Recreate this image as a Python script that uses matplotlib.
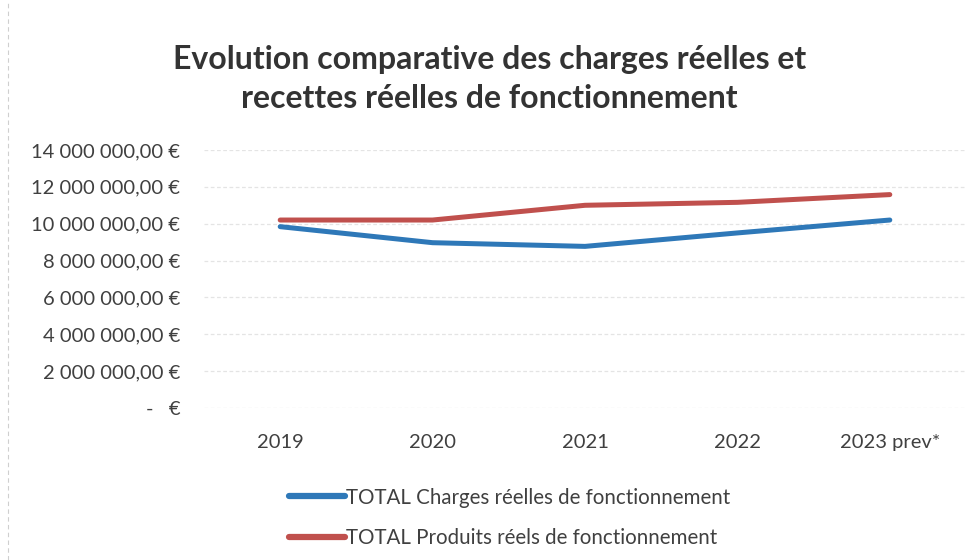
import matplotlib.pyplot as plt
from matplotlib.lines import Line2D

plt.rcParams["font.family"] = ["Lato", "DejaVu Sans"]

YEARS = ["2019", "2020", "2021", "2022", "2023 prev*"]
CHARGES = [9840000, 8970000, 8770000, 9500000, 10200000]
PRODUITS = [10200000, 10200000, 11000000, 11160000, 11580000]
Y_TICKS = [0, 2000000, 4000000, 6000000, 8000000, 10000000, 12000000, 14000000]

BLUE = "#2e78b8"
RED = "#c0504d"
TEXT = "#404040"


def euro(v):
    if v == 0:
        return "-   €"
    return f"{v:,.2f}".replace(",", " ").replace(".", ",") + " €"


fig = plt.figure(figsize=(9.79, 5.60), dpi=100, facecolor="white")
ax = fig.add_axes([204 / 979, 1 - 408 / 560, 762 / 979, 258 / 560])

x = range(len(YEARS))
ax.plot(x, CHARGES, color=BLUE, linewidth=3.6, solid_capstyle="round")
ax.plot(x, PRODUITS, color=RED, linewidth=3.6, solid_capstyle="round")

ax.set_xlim(-0.5, len(YEARS) - 0.5)
ax.set_ylim(0, 14000000)
ax.set_yticks(Y_TICKS)
ax.set_yticklabels([euro(v) for v in Y_TICKS])
ax.set_xticks(list(x))
ax.set_xticklabels(YEARS)
ax.tick_params(axis="both", length=0, labelsize=14.5, colors=TEXT)
ax.tick_params(axis="y", pad=17)
ax.tick_params(axis="x", pad=19)
ax.grid(axis="y", color="#e4e4e4", linewidth=0.9, linestyle=(0, (3, 2)))
ax.set_axisbelow(True)
for spine in ax.spines.values():
    spine.set_visible(False)

fig.text(0.5, 1 - 79 / 560, "Evolution comparative des charges réelles et\nrecettes réelles de fonctionnement",
         ha="center", va="center", fontsize=23, fontweight="bold", color="#333333", linespacing=1.45)

handles = [Line2D([], [], color=BLUE, linewidth=4.5, solid_capstyle="round"),
           Line2D([], [], color=RED, linewidth=4.5, solid_capstyle="round")]
fig.legend(handles, ["TOTAL Charges réelles de fonctionnement", "TOTAL Produits réels de fonctionnement"],
           loc="upper left", bbox_to_anchor=(270 / 979, 1 - 469 / 560), frameon=False,
           fontsize=14.8, labelcolor=TEXT, handlelength=2.75, handletextpad=0.05, labelspacing=1.0)

# faint scanned frame on the left edge
fig.add_artist(Line2D([8 / 979, 8 / 979], [0, 1], transform=fig.transFigure,
                      color="#cfcfcf", linewidth=0.8, linestyle=(0, (4, 3))))

fig.savefig("out.png", dpi=100, facecolor="white")
